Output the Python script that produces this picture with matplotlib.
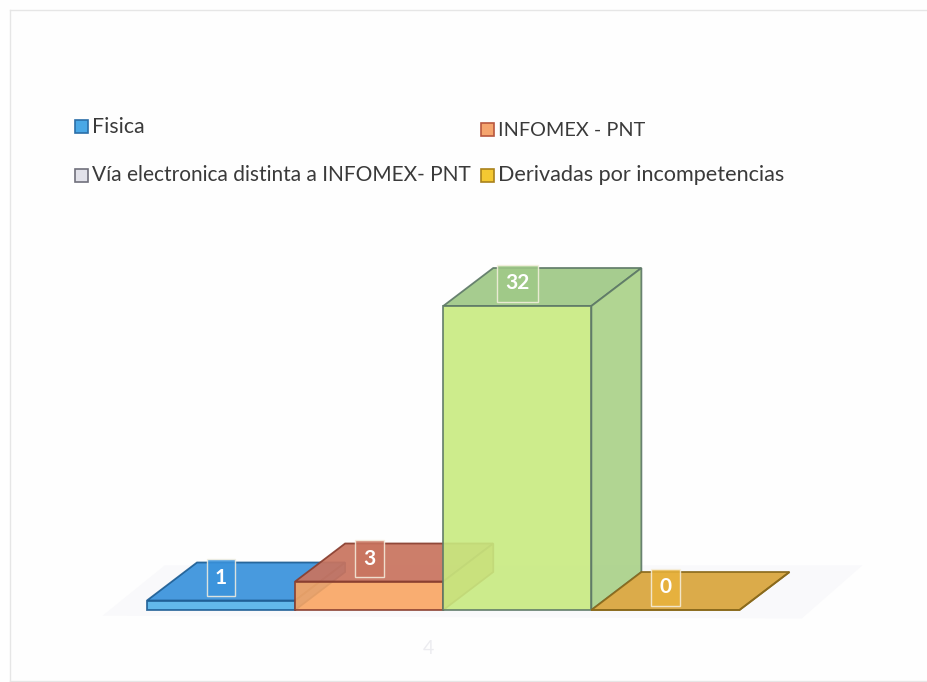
import matplotlib
matplotlib.use("Agg")
import matplotlib.pyplot as plt
from matplotlib.patches import Polygon, Rectangle

plt.rcParams['font.family'] = ['Lato', 'DejaVu Sans']

# values
values = [1, 3, 32, 0]
legend_labels = ['Fisica', 'INFOMEX - PNT',
                 'Vía electronica distinta a INFOMEX- PNT', 'Derivadas por incompetencias']
legend_colors = ['#4aa8e6', '#f5a56e', '#e2e2ea', '#f4c832']
legend_edges = ['#2b6fa8', '#b8573f', '#70707c', '#a9821c']
category_label = '4'

front_colors = ['#52b2ea', '#f9a562', '#c8ea80', '#f0b840']
top_colors = ['#3a93dc', '#c9745f', '#a0c987', '#d9a53c']
side_colors = ['#3a93dc', '#d98a5a', '#abd28a', '#d9a53c']
edge_colors = ['#1f5f95', '#8a3f30', '#5f7a68', '#8a6a1c']
label_bg = ['#3a93dc', '#c9745f', '#a0c987', '#e8b33c']

W, H = 927, 682
fig = plt.figure(figsize=(W / 100, H / 100), dpi=100, facecolor='#fefefe')
ax = fig.add_axes([147 / W, (H - 610) / H, 592.5 / W, 304 / H])
ax.set_xlim(0, 4)
ax.set_ylim(0, 32)
ax.axis('off')

# oblique depth of the 3D bars, in axis units
dx = 50 / 148.1
dy = 38 / 9.5

# faint floor shadow
ax.add_patch(Polygon([(-0.3, -0.6), (0.12, 4.7), (4.83, 4.7), (4.42, -0.9)], closed=True,
                     facecolor='#f9f9fb', edgecolor='none', clip_on=False, zorder=0))

for i, v in enumerate(values):
    z = 2 + i
    style = dict(closed=True, edgecolor=edge_colors[i], linewidth=1.3, clip_on=False, zorder=z)
    ax.add_patch(Polygon([(i, v), (i + 1, v), (i + 1 + dx, v + dy), (i + dx, v + dy)],
                         facecolor=top_colors[i], alpha=0.93, **style))
    ax.add_patch(Polygon([(i + 1, 0), (i + 1 + dx, dy), (i + 1 + dx, v + dy), (i + 1, v)],
                         facecolor=side_colors[i], alpha=0.93, **style))
    ax.add_patch(Rectangle((i, 0), 1, v, facecolor=front_colors[i], alpha=0.9,
                           edgecolor=edge_colors[i], linewidth=1.3, clip_on=False, zorder=z))

# value labels sit in a translucent box over the top face
for i, v in enumerate(values):
    ax.text(i + 0.5, v + dy / 2 + 0.4, str(v), color='white', fontsize=15, fontweight='bold',
            ha='center', va='center', zorder=10, clip_on=False,
            bbox=dict(boxstyle='square,pad=0.4', facecolor=label_bg[i], alpha=0.85,
                      edgecolor='#f6f0e0', linewidth=1))

ax.text(1.9, -4.0, category_label, color='#ececf0', fontsize=14, ha='center', va='center',
        clip_on=False)

# legend, placed by hand: swatch x, swatch centre y, text baseline y, font size
legend_pos = [(75, 126, 133, 15.3), (481, 129, 136, 14.3), (75, 175, 181, 15.0), (481, 175, 181, 15.6)]
for label, fc, ec, (px, py, base, size) in zip(legend_labels, legend_colors, legend_edges, legend_pos):
    fig.add_artist(Rectangle((px / W, (H - py - 6.5) / H), 13 / W, 13 / H, transform=fig.transFigure,
                             facecolor=fc, edgecolor=ec, linewidth=1.2))
    fig.text((px + 17) / W, (H - base) / H, label, fontsize=size, color='#3a3a3a',
             ha='left', va='baseline')

# scanned page frame
frame_color = '#e6e6e6'
fig.add_artist(plt.Line2D([10 / W, 1], [1 - 10 / H, 1 - 10 / H], color=frame_color, lw=1))
fig.add_artist(plt.Line2D([10 / W, 10 / W], [1 / H, 1 - 10 / H], color=frame_color, lw=1))
fig.add_artist(plt.Line2D([10 / W, 1], [1 / H, 1 / H], color=frame_color, lw=1))

fig.savefig('out.png', dpi=100, facecolor=fig.get_facecolor())
